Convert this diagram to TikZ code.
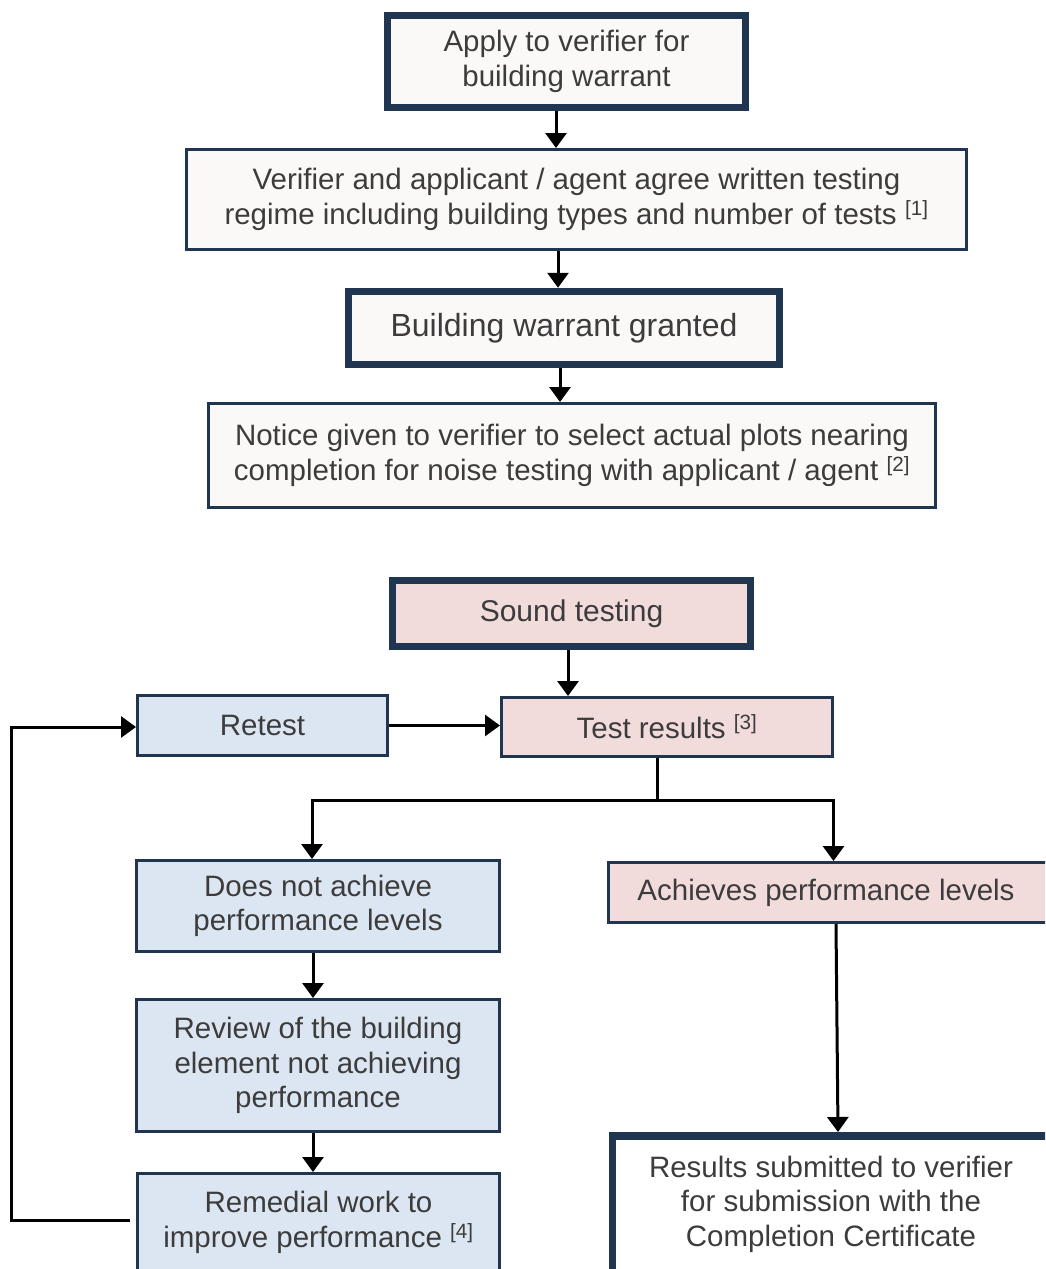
\documentclass[tikz,border=0pt]{standalone}
\usepackage{xcolor}
\usepackage{fontspec}
\setmainfont{Liberation Sans}
\usepackage{tikz}
\usetikzlibrary{arrows.meta, positioning}

\definecolor{edgeblue}{HTML}{1F3550}
\definecolor{textgrey}{HTML}{3C3C3C}
\definecolor{paper}{HTML}{FAF9F7}
\definecolor{rosefill}{HTML}{F2DCDB}
\definecolor{skyfill}{HTML}{DCE6F2}
\newcommand{\noteref}[1]{\textsuperscript{[#1]}}

\begin{document}
\begin{tikzpicture}[x=1pt, y=-1pt,
        font=\fontsize{29.5}{34.5}\selectfont, text=textgrey,
        box/.style={draw=edgeblue, line width=3pt, align=center, inner sep=0pt},
        bigbox/.style={box, line width=7.5pt},
        flow/.style={-{Triangle[width=21pt, length=15pt]}, line width=3pt},
        joint/.style={line width=3pt}]
      \useasboundingbox (0,0) rectangle (1045,1269);
      \clip (0,0) rectangle (1045,1269);
      % stage before the tests
      \node[bigbox, fill=paper, minimum width=358pt, minimum height=92pt]
            (apply) at (566.5,61.5) {Apply to verifier for\\building warrant};
      \node[box, fill=paper, minimum width=780pt, minimum height=100pt]
            (agree) at (576.5,199.5)
            {Verifier and applicant / agent agree written testing\\
             regime including building types and number of tests \noteref{1}};
      \node[bigbox, fill=paper, minimum width=431pt, minimum height=73pt]
            (granted) at (564,328)
            {\fontsize{32}{36}\selectfont Building warrant granted};
      \node[box, fill=paper, minimum width=727pt, minimum height=104pt]
            (notice) at (572,455.5)
            {Notice given to verifier to select actual plots nearing\\
             completion for noise testing with applicant / agent \noteref{2}};
      \draw[flow] ([xshift=-10.5pt]apply.south) -- ([xshift=-20.5pt]agree.north);
      \draw[flow] ([xshift=-18.5pt]agree.south) -- ([xshift=-6pt]granted.north);
      \draw[flow] ([xshift=-4pt]granted.south) -- ([xshift=-12pt]notice.north);
      % testing stage
      \node[bigbox, fill=rosefill, minimum width=358pt, minimum height=66pt]
            (sound) at (571.5,613.5) {\fontsize{30}{34}\selectfont Sound testing};
      \node[box, fill=skyfill, minimum width=250pt, minimum height=60pt]
            (retest) at (262.5,725.5) {Retest};
      \node[box, fill=rosefill, minimum width=331pt, minimum height=59pt]
            (results) at (667,727) {Test results \noteref{3}};
      \node[box, fill=skyfill, minimum width=363pt, minimum height=91pt]
            (fail) at (318,906) {Does not achieve\\performance levels};
      \node[box, fill=rosefill, minimum width=450pt, minimum height=60pt]
            (pass) at (833.5,892.5) {\hbox{Achieves performance levels\kern15pt}};
      \node[box, fill=skyfill, minimum width=363pt, minimum height=132pt]
            (review) at (318,1065.5)
            {Review of the building\\element not achieving\\performance};
      \node[box, fill=skyfill, minimum width=362pt, inner ysep=18pt,
            text depth=80pt, anchor=north]
            (remedial) at (318.5,1172)
            {Remedial work to\\improve performance \noteref{4}};
      \node[bigbox, fill=white, minimum width=437pt, inner ysep=20pt,
            text depth=80pt, anchor=north]
            (submit) at (831,1132)
            {Results submitted to verifier\\for submission with the\\Completion Certificate};
      \draw[flow] ([xshift=-3.5pt]sound.south) -- ([xshift=-99pt]results.north);
      \draw[flow] (retest.east) -- (retest.east -| results.west);
      \draw[joint] ([xshift=-10pt]results.south) -- ++(0,42) coordinate (split);
      \draw[flow] (split) -| ([xshift=-6pt]fail.north);
      \draw[flow] (split) -| (pass.north);
      \draw[flow] ([xshift=-5pt]fail.south) -- ([xshift=-5pt]review.north);
      \draw[flow] ([xshift=-5pt]review.south) -- ([xshift=-5.5pt]remedial.north);
      \draw[flow] ([xshift=2.5pt]pass.south) -- ([xshift=7pt]submit.north);
      % loop back to the retest
      \draw[flow] ([xshift=-6pt, yshift=-48pt]remedial.north west)
            -- ++(-119,0) |- ([yshift=-1.5pt]retest.west);
    \end{tikzpicture}
\end{document}
